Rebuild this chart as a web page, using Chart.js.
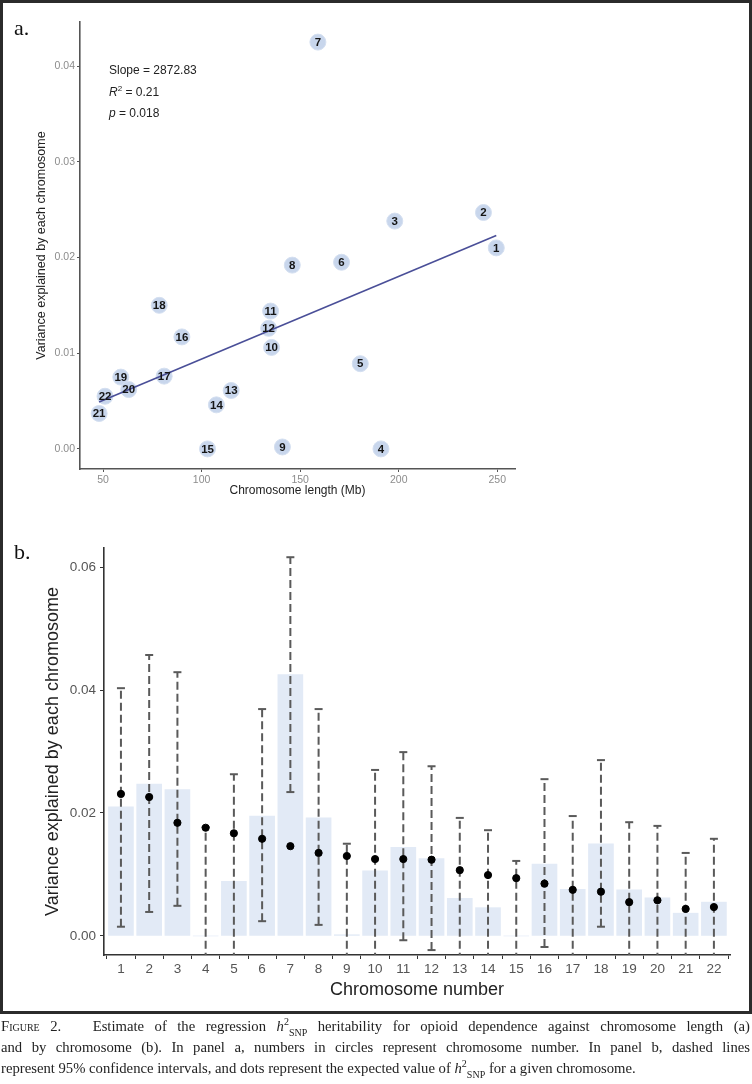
<!DOCTYPE html>
<html>
<head>
<meta charset="utf-8">
<script src="https://cdn.jsdelivr.net/npm/chart.js@4.4.0/dist/chart.umd.min.js"></script>
<style>
  html, body { margin: 0; padding: 0; background: #fff; }
  body { width: 752px; height: 1084px; position: relative; overflow: hidden; font-family: "Liberation Sans", Arial, sans-serif; }
  #frame { position: absolute; left: 0; top: 0; width: 752px; height: 1014px; box-sizing: border-box; border: 3px solid #2b2b2b; pointer-events: none; }
  canvas { position: absolute; left: 0; }
  #chartA { top: 0; }
  #chartB { top: 505px; }
  .tag { position: absolute; font-family: "Liberation Serif", "Times New Roman", serif; font-size: 22px; color: #111; line-height: 1; }
  .stat { position: absolute; left: 109px; font-size: 12px; color: #222; line-height: 14px; white-space: nowrap; }
  .stat sup { font-size: 8px; vertical-align: 5px; line-height: 0; }
  #caption { position: absolute; left: 1px; top: 1016px; width: 749px; font-family: "Liberation Serif", "Times New Roman", serif; font-size: 14.7px; color: #222; line-height: 21px; }
  #caption div { text-align: justify; text-align-last: justify; white-space: nowrap; }
  #caption div.last { text-align-last: left; }
  #caption sup, #caption sub { font-size: 10px; line-height: 0; }
  #caption sub { position: relative; top: 1px; }
  .sc { font-variant: small-caps; }
</style>
</head>
<body>
<canvas id="chartA" width="752" height="505"></canvas>
<canvas id="chartB" width="752" height="500"></canvas>
<div class="tag" style="left:14px; top:17px;">a.</div>
<div class="tag" style="left:14px; top:541px;">b.</div>
<div class="stat" style="top:63px;">Slope = 2872.83</div>
<div class="stat" style="top:85px;"><i>R</i><sup>2</sup> = 0.21</div>
<div class="stat" style="top:106px;"><i>p</i> = 0.018</div>
<div id="frame"></div>
<div id="caption">
  <div><span class="sc">Figure 2.</span>&nbsp;&nbsp; Estimate of the regression <i>h</i><sup>2</sup><sub>SNP</sub> heritability for opioid dependence against chromosome length (a)</div>
  <div>and by chromosome (b). In panel a, numbers in circles represent chromosome number. In panel b, dashed lines</div>
  <div class="last">represent 95% confidence intervals, and dots represent the expected value of <i>h</i><sup>2</sup><sub>SNP</sub> for a given chromosome.</div>
</div>

<script>
// ---- datos ----
const chromosomes = ['1', '2', '3', '4', '5', '6', '7', '8', '9', '10', '11',
                     '12', '13', '14', '15', '16', '17', '18', '19', '20', '21', '22'];
const chrLengthMb = [249.5, 243, 198, 191, 180.5, 171, 159, 146, 141, 135.5, 135,
                     134, 115, 107.5, 103, 90, 81, 78.5, 59, 63, 48, 51];
const varianceExplained = [0.0210, 0.0247, 0.0238, 0.0000, 0.0089, 0.0195, 0.0425, 0.0192, 0.0002, 0.0106, 0.0144,
                           0.0126, 0.0061, 0.0046, 0.0000, 0.0117, 0.0076, 0.0150, 0.0075, 0.0062, 0.0037, 0.0055];
const regLineX = [48, 249.5];
const regLineY = [0.0049, 0.0223];

const expectedH2 = [0.0231, 0.0226, 0.0184, 0.0176, 0.0167, 0.0158, 0.0146, 0.0135, 0.0130, 0.0125, 0.0125,
                    0.0124, 0.0107, 0.0099, 0.0094, 0.0085, 0.0075, 0.0072, 0.0055, 0.0058, 0.0044, 0.0047];
const ciUpper = [0.0403, 0.0457, 0.0429, 0.0177, 0.0263, 0.0369, 0.0616, 0.0369, 0.0150, 0.0270, 0.0299,
                 0.0276, 0.0192, 0.0172, 0.0122, 0.0255, 0.0195, 0.0286, 0.0185, 0.0179, 0.0135, 0.0158];
const ciLower = [0.0015, 0.0039, 0.0049, -0.0060, -0.0060, 0.0024, 0.0234, 0.0018, -0.0060, -0.0060, -0.0007,
                 -0.0023, -0.0060, -0.0060, -0.0060, -0.0018, -0.0060, 0.0015, -0.0060, -0.0060, -0.0060, -0.0060];

const scatterTicksX = [50, 100, 150, 200, 250];
const scatterTicksY = [0, 0.01, 0.02, 0.03, 0.04];
const barTicksY = [0, 0.02, 0.04, 0.06];

const sans = '"Liberation Sans", Arial, sans-serif';

// etiquetas dentro de los círculos
const circleLabels = {
    id: 'circleLabels',
    afterDatasetsDraw(chart) {
        const meta = chart.getDatasetMeta(1);
        const ctx = chart.ctx;
        ctx.save();
        ctx.font = 'bold 11.5px ' + sans;
        ctx.fillStyle = '#151515';
        ctx.textAlign = 'center';
        ctx.textBaseline = 'middle';
        meta.data.forEach((pt, i) => {
            ctx.fillText(chromosomes[i], pt.x, pt.y + 0.5);
        });
        ctx.restore();
    }
};

// ========== PANEL A: DISPERSIÓN ==========
new Chart(document.getElementById('chartA'), {
    type: 'scatter',
    data: {
        datasets: [{
            type: 'line',
            data: regLineX.map((x, i) => ({ x: x, y: regLineY[i] })),
            borderColor: '#4a4f98',
            borderWidth: 1.6,
            pointRadius: 0,
            fill: false
        }, {
            data: chrLengthMb.map((x, i) => ({ x: x, y: varianceExplained[i] })),
            backgroundColor: '#c8d6ec',
            borderColor: '#d4dff0',
            borderWidth: 1,
            pointRadius: 8
        }]
    },
    options: {
        responsive: false,
        animation: false,
        events: [],
        layout: { padding: { left: 30, right: 237, top: 22, bottom: 3 } },
        plugins: { legend: { display: false }, tooltip: { enabled: false } },
        scales: {
            x: {
                type: 'linear',
                min: 38.3, max: 259,
                afterBuildTicks: s => { s.ticks = scatterTicksX.map(v => ({ value: v })); },
                afterFit: s => { s.height = 33; },
                border: { display: true, color: '#555', width: 1.6 },
                grid: { drawOnChartArea: false, drawTicks: true, tickLength: 3, tickColor: '#555', tickWidth: 1 },
                ticks: { color: '#8c8c8c', font: { family: sans, size: 10.5 }, padding: 2, maxRotation: 0 },
                title: { display: true, text: 'Chromosome length (Mb)', color: '#222', font: { family: sans, size: 12 } }
            },
            y: {
                min: -0.0021, max: 0.0446,
                afterBuildTicks: s => { s.ticks = scatterTicksY.map(v => ({ value: v })); },
                afterFit: s => { s.width = 50; },
                border: { display: true, color: '#555', width: 1.6 },
                grid: { drawOnChartArea: false, drawTicks: true, tickLength: 3, tickColor: '#555', tickWidth: 1 },
                ticks: { color: '#8c8c8c', font: { family: sans, size: 10.5 }, padding: 2, callback: v => v.toFixed(2) },
                title: { display: true, text: 'Variance explained by each chromosome', color: '#222', font: { family: sans, size: 12.5 } }
            }
        }
    },
    plugins: [circleLabels]
});

// ========== PANEL B: BARRAS + IC ==========
const errorBarSets = chromosomes.map((c, i) => ({
    type: 'line',
    data: [{ x: i + 1, y: ciLower[i] }, { x: i + 1, y: ciUpper[i] }],
    borderColor: '#5a5a5a',
    borderWidth: 2,
    borderDash: [8, 4],
    pointStyle: 'line',
    pointRadius: 4,
    pointBorderWidth: 2,
    pointBorderColor: '#5a5a5a',
    order: 2
}));

new Chart(document.getElementById('chartB'), {
    type: 'bar',
    data: {
        datasets: [{
            type: 'bar',
            data: chromosomes.map((c, i) => ({ x: i + 1, y: varianceExplained[i] })),
            backgroundColor: '#e2eaf6',
            barThickness: 25,
            order: 3
        }, ...errorBarSets, {
            type: 'scatter',
            data: chromosomes.map((c, i) => ({ x: i + 1, y: expectedH2[i] })),
            backgroundColor: '#000',
            borderColor: '#000',
            pointRadius: 3.6,
            order: 1
        }]
    },
    options: {
        responsive: false,
        animation: false,
        events: [],
        layout: { padding: { left: 38, right: 22, top: 43, bottom: 0 } },
        plugins: { legend: { display: false }, tooltip: { enabled: false } },
        scales: {
            x: {
                type: 'linear',
                min: 0.4, max: 22.57,
                offset: false,
                afterBuildTicks: s => { s.ticks = chromosomes.map((c, i) => ({ value: i + 1 })); },
                afterFit: s => { s.height = 50; },
                border: { display: true, color: '#333', width: 1.6 },
                grid: { drawOnChartArea: false, drawTicks: true, tickLength: 4, tickColor: '#333', tickWidth: 1 },
                ticks: { color: '#555', font: { family: sans, size: 13.5 }, padding: 2, maxRotation: 0, autoSkip: false,
                         callback: v => chromosomes[v - 1] },
                title: { display: true, text: 'Chromosome number', color: '#222', font: { family: sans, size: 18 } }
            },
            y: {
                min: -0.0031, max: 0.0631,
                afterBuildTicks: s => { s.ticks = barTicksY.map(v => ({ value: v })); },
                afterFit: s => { s.width = 66; },
                border: { display: true, color: '#333', width: 1.6 },
                grid: { drawOnChartArea: false, drawTicks: true, tickLength: 4, tickColor: '#333', tickWidth: 1 },
                ticks: { color: '#555', font: { family: sans, size: 13.5 }, padding: 4, callback: v => v.toFixed(2) },
                title: { display: true, text: 'Variance explained by each chromosome', color: '#222', font: { family: sans, size: 18 } }
            }
        }
    }
});
</script>
</body>
</html>
